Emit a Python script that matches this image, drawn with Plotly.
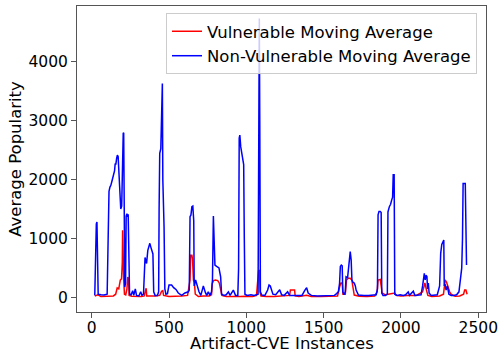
import plotly.graph_objects as go

# Non-vulnerable moving average (blue) - vertices
nonvuln_x = [20, 26, 30, 34, 38, 42, 60, 80, 100, 106, 112, 118, 124, 130, 137, 143, 148, 152, 156, 161, 166, 171, 176, 182, 188, 194, 199, 204, 207, 210, 214, 219, 223, 228, 232, 236, 240, 245, 255, 265, 272, 282, 290, 305, 317, 325, 335, 340, 345, 349, 355, 363, 371, 376, 382, 390, 396, 401, 410, 425, 433, 436, 440, 447, 452, 457, 460, 463, 468, 473, 480, 490, 500, 517, 530, 545, 560, 582, 603, 625, 631, 636, 642, 648, 654, 660, 663, 672, 680, 694, 706, 722, 735, 744, 754, 765, 775, 781, 787, 792, 797, 808, 823, 834, 840, 855, 870, 884, 895, 916, 930, 945, 950, 954, 958, 964, 970, 978, 983, 987, 991, 1005, 1030, 1050, 1065, 1076, 1081, 1084, 1087, 1091, 1099, 1120, 1138, 1147, 1155, 1172, 1190, 1207, 1216, 1228, 1245, 1267, 1280, 1300, 1330, 1360, 1379, 1390, 1400, 1420, 1460, 1500, 1540, 1570, 1584, 1595, 1603, 1608, 1614, 1620, 1624, 1632, 1640, 1645, 1655, 1662, 1667, 1672, 1678, 1683, 1690, 1698, 1705, 1710, 1725, 1740, 1760, 1790, 1820, 1840, 1848, 1852, 1858, 1866, 1872, 1876, 1884, 1900, 1912, 1916, 1925, 1933, 1940, 1946, 1950, 1956, 1960, 1975, 1995, 2015, 2030, 2047, 2055, 2080, 2090, 2110, 2130, 2140, 2146, 2151, 2157, 2162, 2168, 2172, 2177, 2182, 2195, 2215, 2235, 2250, 2257, 2264, 2272, 2277, 2280, 2285, 2292, 2300, 2310, 2325, 2340, 2360, 2375, 2385, 2393, 2398, 2402, 2416, 2420, 2424]
nonvuln_y = [40, 1150, 1250, 1280, 200, 60, 50, 45, 60, 900, 1800, 1870, 1900, 1960, 2050, 2120, 2150, 2270, 2250, 2350, 2410, 2390, 2150, 1750, 1500, 1550, 2500, 2780, 2790, 900, 180, 250, 1380, 1420, 1370, 1410, 300, 60, 50, 120, 40, 150, 40, 30, 100, 40, 60, 500, 680, 640, 580, 800, 870, 920, 860, 780, 740, 100, 40, 40, 100, 1500, 2440, 2520, 3000, 3620, 2000, 1260, 1200, 150, 60, 70, 215, 215, 170, 140, 80, 40, 80, 100, 130, 1370, 1400, 1540, 1550, 1300, 200, 300, 210, 100, 40, 200, 90, 40, 100, 40, 100, 300, 1380, 800, 552, 530, 505, 355, 60, 40, 50, 100, 40, 130, 40, 40, 500, 2700, 2750, 2550, 2466, 2350, 2250, 1000, 60, 40, 50, 40, 50, 60, 3000, 4720, 3000, 100, 45, 40, 130, 215, 200, 60, 50, 110, 135, 50, 40, 100, 40, 40, 35, 40, 130, 170, 80, 40, 30, 30, 30, 40, 70, 100, 243, 530, 552, 540, 100, 50, 100, 355, 340, 500, 700, 780, 640, 300, 260, 250, 200, 130, 45, 40, 40, 40, 40, 50, 150, 1400, 1460, 1460, 1440, 80, 40, 40, 60, 1450, 1540, 1580, 1650, 1700, 2080, 2080, 60, 40, 50, 40, 50, 100, 40, 110, 40, 40, 50, 200, 350, 412, 300, 380, 360, 150, 250, 80, 40, 40, 50, 200, 750, 900, 950, 975, 200, 230, 130, 200, 60, 40, 40, 50, 100, 383, 500, 1000, 1930, 1930, 1000, 552]

# Vulnerable moving average (red)
vuln_x = [20, 40, 60, 80, 100, 120, 140, 155, 165, 175, 185, 193, 198, 200, 203, 207, 212, 220, 228, 233, 238, 242, 260, 290, 320, 340, 347, 352, 356, 380, 410, 440, 452, 460, 465, 500, 540, 580, 620, 636, 640, 648, 652, 658, 664, 670, 690, 720, 760, 775, 780, 788, 800, 815, 825, 834, 842, 870, 920, 960, 1000, 1040, 1066, 1073, 1079, 1085, 1089, 1095, 1130, 1180, 1230, 1280, 1285, 1312, 1316, 1340, 1390, 1420, 1480, 1540, 1590, 1605, 1612, 1620, 1625, 1640, 1648, 1660, 1672, 1682, 1690, 1698, 1730, 1780, 1830, 1846, 1852, 1866, 1872, 1878, 1900, 1930, 1960, 1970, 2000, 2040, 2100, 2140, 2148, 2155, 2165, 2174, 2200, 2250, 2275, 2280, 2286, 2295, 2303, 2315, 2324, 2350, 2380, 2405, 2412, 2420, 2428]
vuln_y = [30, 50, 20, 25, 20, 25, 30, 60, 165, 150, 300, 320, 600, 1140, 500, 300, 60, 50, 150, 350, 330, 40, 25, 20, 20, 30, 158, 160, 30, 25, 30, 40, 110, 120, 40, 20, 20, 30, 40, 300, 720, 720, 650, 300, 260, 60, 20, 30, 30, 50, 243, 290, 300, 290, 250, 100, 40, 20, 15, 20, 25, 20, 40, 215, 456, 460, 100, 30, 20, 20, 25, 40, 130, 130, 30, 20, 40, 20, 20, 25, 30, 200, 250, 250, 60, 60, 300, 330, 330, 300, 150, 45, 25, 20, 30, 100, 300, 310, 200, 80, 50, 60, 80, 40, 30, 40, 40, 100, 200, 250, 130, 40, 20, 30, 60, 250, 300, 260, 180, 100, 60, 25, 30, 60, 130, 130, 60]

series_names = ["Vulnerable Moving Average", "Non-Vulnerable Moving Average"]
x_title = "Artifact-CVE Instances"
y_title = "Average Popularity"
x_tick_vals = [0, 500, 1000, 1500, 2000, 2500]
y_tick_vals = [0, 1000, 2000, 3000, 4000]

FONT = "DejaVu Sans"
AX = "#555555"

fig = go.Figure()
fig.add_trace(go.Scatter(x=vuln_x, y=vuln_y, mode="lines", name=series_names[0],
                         legendgroup="a", line=dict(color="#ff0000", width=1.5)))
fig.add_trace(go.Scatter(x=nonvuln_x, y=nonvuln_y, mode="lines", name=series_names[1],
                         legendgroup="b", line=dict(color="#0000ff", width=1.5)))

axis_common = dict(showgrid=False, zeroline=False, showline=True, linecolor=AX, linewidth=1,
                   mirror=True, ticks="outside", ticklen=5, tickcolor=AX, tickwidth=1,
                   automargin=False,
                   tickfont=dict(family=FONT, size=15.5, color="#000"))

fig.update_layout(
    width=500, height=354,
    margin=dict(l=77, r=14, t=6, b=42),
    paper_bgcolor="white", plot_bgcolor="white",
    font=dict(family=FONT, size=16.5, color="#000"),
    xaxis=dict(range=[-95, 2550], tickvals=x_tick_vals, ticklabelstandoff=-4,
               **axis_common),
    yaxis=dict(range=[-241, 4932], tickvals=y_tick_vals,
               title=dict(text=y_title, font=dict(family=FONT, size=16.5), standoff=2),
               **axis_common),
    legend=dict(x=0.978, y=0.977, xanchor="right", yanchor="top",
                bgcolor="rgba(255,255,255,0.8)", bordercolor="#cccccc", borderwidth=1,
                font=dict(family=FONT, size=16.5), traceorder="grouped", tracegroupgap=0),
    showlegend=True,
    annotations=[dict(text=x_title, xref="paper", yref="paper", x=0.5, y=-0.136,
                      xanchor="center", yanchor="bottom", showarrow=False, borderpad=0,
                      font=dict(family=FONT, size=16.5, color="#000"))],
)

fig.write_html("out.html", config={"displayModeBar": False},
               post_script="document.body.style.margin='0';document.body.style.overflow='hidden';")
